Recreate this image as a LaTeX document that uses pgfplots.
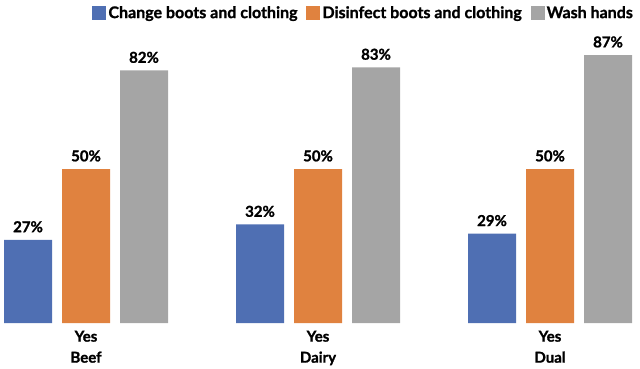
\documentclass[border=0pt]{standalone}
\usepackage{pgfplots}
\pgfplotsset{compat=1.18}
\usepackage{fontspec}
\setmainfont{Lato}[BoldFeatures={FakeBold=1.2}]
\definecolor{cblue}{HTML}{4F6FB3}
\definecolor{corange}{HTML}{E0823F}
\definecolor{cgray}{HTML}{A5A5A5}
\begin{document}
\begin{tikzpicture}
\useasboundingbox (0,0) rectangle (640pt,368pt);
\begin{axis}[
  at={(0pt,45pt)}, anchor=south west,
  scale only axis,
  width=640pt, height=292.6pt,
  xmin=-0.3707, xmax=2.3879,
  ymin=0, ymax=95,
  ybar, bar width=48pt,
  axis line style={draw=none},
  tick style={draw=none},
  ytick=\empty,
  xtick={0,1,2},
  xticklabels={Yes\\Beef,Yes\\Dairy,Yes\\Dual},
  xticklabel style={align=center, font=\fontsize{15}{21}\selectfont\bfseries},
  /pgf/number format/assume math mode=true,
  nodes near coords={\pgfmathprintnumber{\pgfplotspointmeta}\%},
  every node near coord/.append style={font=\fontsize{15}{16}\selectfont\bfseries, black, yshift=4pt},
  legend style={at={(0.997,1.097)}, anchor=north east, draw=none, fill=none,
    legend columns=3, font=\fontsize{16}{18}\selectfont\bfseries,
    /tikz/every even column/.append style={column sep=7pt}},
  legend image code/.code={\draw[#1, draw=none] (0pt,-7pt) rectangle (14pt,7pt);},
]
\addplot[fill=cblue, draw=none, bar shift=-58pt] coordinates {(0,27) (1,32) (2,29)};
\addplot[fill=corange, draw=none, bar shift=0pt] coordinates {(0,50) (1,50) (2,50)};
\addplot[fill=cgray, draw=none, bar shift=58pt] coordinates {(0,82) (1,83) (2,87)};
\legend{Change boots and clothing, Disinfect boots and clothing, Wash hands}
\end{axis}
\end{tikzpicture}
\end{document}
